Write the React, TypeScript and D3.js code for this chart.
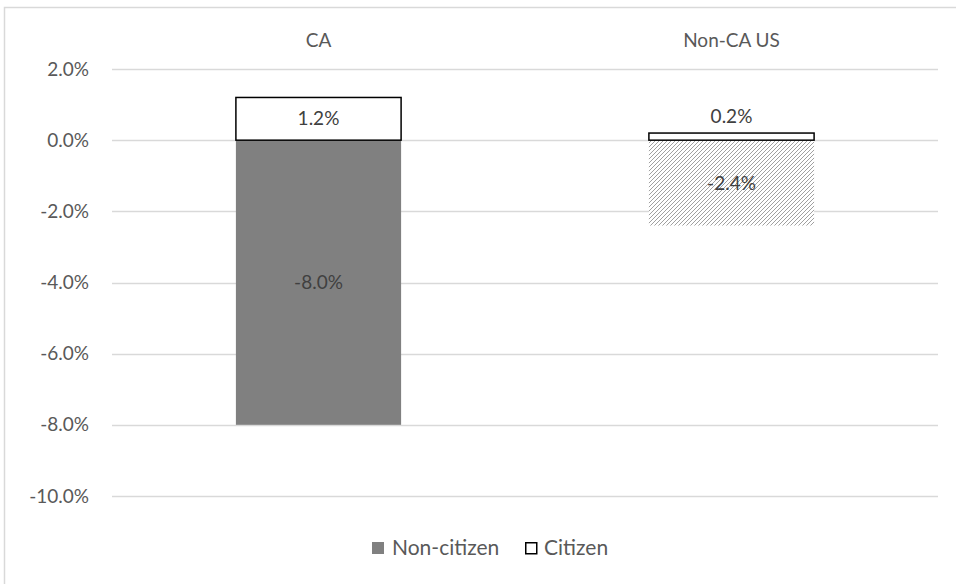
import React from "react";
import * as d3 from "d3";

const categories = ["CA", "Non-CA US"];
const nonCitizen = [-8.0, -2.4];
const citizen = [1.2, 0.2];
const yTicks = [2, 0, -2, -4, -6, -8, -10];
const legendLabels = ["Non-citizen", "Citizen"];

const W = 956;
const H = 584;
const FONT = "Lato, 'Open Sans', sans-serif";
const TXT = "#595959";

export default function App() {
  const x = d3.scaleBand<string>().domain(categories).range([112, 938]).paddingInner(0).paddingOuter(0);
  const y = d3.scaleLinear().domain([-10, 2]).range([496, 69]);
  const barW = x.bandwidth() * 0.4;
  const fmt = (v: number) => v.toFixed(1) + "%";

  return (
    <svg width={W} height={H} style={{ position: "absolute", left: 0, top: 0 }} fontFamily={FONT}>
      <defs>
        <pattern id="hatch" patternUnits="userSpaceOnUse" width={4} height={4}>
          <rect width={4} height={4} fill="#ffffff" />
          <path d="M-1,1 l2,-2 M0,4 l4,-4 M3,5 l2,-2" stroke="#a0a0a0" strokeWidth={1} />
        </pattern>
      </defs>
      <rect x={0} y={0} width={W} height={H} fill="#fff" />
      <rect x={4.5} y={7.5} width={W + 10} height={H + 10} fill="#fff" stroke="#d9d9d9" strokeWidth={1.5} />
      {yTicks.map((t) => (
        <g key={t}>
          <line x1={112} x2={938} y1={Math.round(y(t)) + 0.5} y2={Math.round(y(t)) + 0.5} stroke="#d9d9d9" strokeWidth={1.5} />
          <text x={89} y={y(t)} dy="0.35em" textAnchor="end" fontSize={19} fill={TXT}>
            {fmt(t)}
          </text>
        </g>
      ))}
      {categories.map((c) => (
        <text key={c} x={(x(c) as number) + x.bandwidth() / 2} y={40} dy="0.35em" textAnchor="middle" fontSize={19} fill={TXT}>
          {c}
        </text>
      ))}
      {categories.map((c, i) => {
        const cx = (x(c) as number) + x.bandwidth() / 2;
        const x0 = cx - barW / 2;
        const nc = nonCitizen[i];
        const ci = citizen[i];
        const ncH = y(nc) - y(0);
        const ciH = y(0) - y(ci);
        const small = ciH < 20;
        return (
          <g key={c}>
            <rect x={x0} y={y(0)} width={barW} height={ncH} fill={i === 0 ? "#808080" : "url(#hatch)"} />
            <rect x={x0} y={y(ci)} width={barW} height={ciH} fill="#ffffff" stroke="#000" strokeWidth={1.5} />
            <text x={cx} y={y(0) + ncH / 2} dy="0.35em" textAnchor="middle" fontSize={19} fill="#404040">
              {fmt(nc)}
            </text>
            <text x={cx} y={small ? y(ci) - 17 : y(ci) + ciH / 2} dy="0.35em" textAnchor="middle" fontSize={19} fill="#404040">
              {fmt(ci)}
            </text>
          </g>
        );
      })}
      <g>
        <rect x={372} y={542} width={12} height={12} fill="#808080" />
        <text x={392} y={548} dy="0.35em" fontSize={21} fill={TXT}>{legendLabels[0]}</text>
        <rect x={525.75} y={542.75} width={11} height={11} fill="#fff" stroke="#000" strokeWidth={1.5} />
        <text x={544} y={548} dy="0.35em" fontSize={21} fill={TXT}>{legendLabels[1]}</text>
      </g>
    </svg>
  );
}
